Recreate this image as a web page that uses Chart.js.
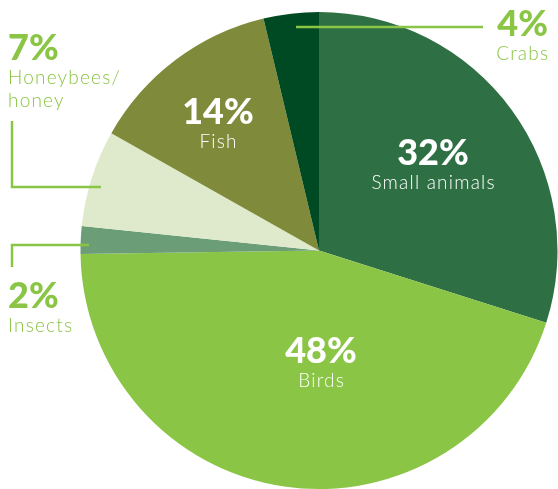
<!DOCTYPE html>
<html>
<head>
<meta charset="utf-8">
<script src="https://cdn.jsdelivr.net/npm/chart.js@4.4.1/dist/chart.umd.min.js"></script>
<style>
  html, body { margin: 0; padding: 0; background: #fff; overflow: hidden; }
  #wrap { position: relative; width: 558px; height: 489px; }
</style>
</head>
<body>
<div id="wrap"><canvas id="dietChart" width="558" height="489"></canvas></div>
<script>
// 먹이 구성 비율
const categories = ['Small animals', 'Birds', 'Insects', 'Honeybees/\nhoney', 'Fish', 'Crabs'];
const shares = [32, 48, 2, 7, 14, 4];
const colors = ['#2e7044', '#8bc546', '#6b9e77', '#deeacb', '#7f8b3a', '#004a23'];

const GREEN = '#8bc546';
const FONT = 'Lato, "Open Sans", sans-serif';
const SPACING = 1.2;

// 라벨 위치 (조각 안쪽 / 바깥쪽)
const labelSpots = [
  { inside: true, x: 433, y: 153 },
  { inside: true, x: 321, y: 351 },
  { inside: false, x: 8, y: 296, align: 'left',
    line: [[89, 245], [12, 245], [12, 267]] },
  { inside: false, x: 8, y: 48, align: 'left',
    line: [[12, 121], [12, 187], [101, 187]] },
  { inside: true, x: 218, y: 112 },
  { inside: false, x: 548, y: 24, align: 'right',
    line: [[296, 27], [483, 27]] }
];

const labelPlugin = {
  id: 'dietLabels',
  afterDraw(chart) {
    const ctx = chart.ctx;
    ctx.save();
    labelSpots.forEach((s, i) => {
      if (s.line) {
        ctx.strokeStyle = GREEN;
        ctx.lineWidth = 2.5;
        ctx.beginPath();
        s.line.forEach((p, k) => k ? ctx.lineTo(p[0], p[1]) : ctx.moveTo(p[0], p[1]));
        ctx.stroke();
      }
      const align = s.inside ? 'center' : s.align;
      ctx.fillStyle = s.inside ? '#ffffff' : GREEN;
      ctx.textAlign = align;
      ctx.textBaseline = 'middle';
      ctx.letterSpacing = '0px';
      ctx.font = '900 36px ' + FONT;
      ctx.fillText(shares[i] + '%', s.x, s.y);
      // 자간 때문에 생기는 뒤쪽 여백 보정
      const shift = align === 'right' ? SPACING : align === 'center' ? SPACING / 2 : 0;
      ctx.font = '300 19px ' + FONT;
      ctx.letterSpacing = SPACING + 'px';
      categories[i].split('\n').forEach((t, k) => {
        ctx.fillText(t, s.x + shift, s.y + 30 + k * 23);
      });
    });
    ctx.restore();
  }
};

const chart = new Chart(document.getElementById('dietChart'), {
  type: 'pie',
  data: {
    labels: categories,
    datasets: [{
      data: shares,
      backgroundColor: colors,
      borderWidth: 0
    }]
  },
  options: {
    responsive: false,
    animation: false,
    layout: { padding: { left: 80, top: 12, right: -2, bottom: -3 } },
    plugins: {
      legend: { display: false },
      tooltip: { enabled: false }
    }
  },
  plugins: [labelPlugin]
});
</script>
</body>
</html>
